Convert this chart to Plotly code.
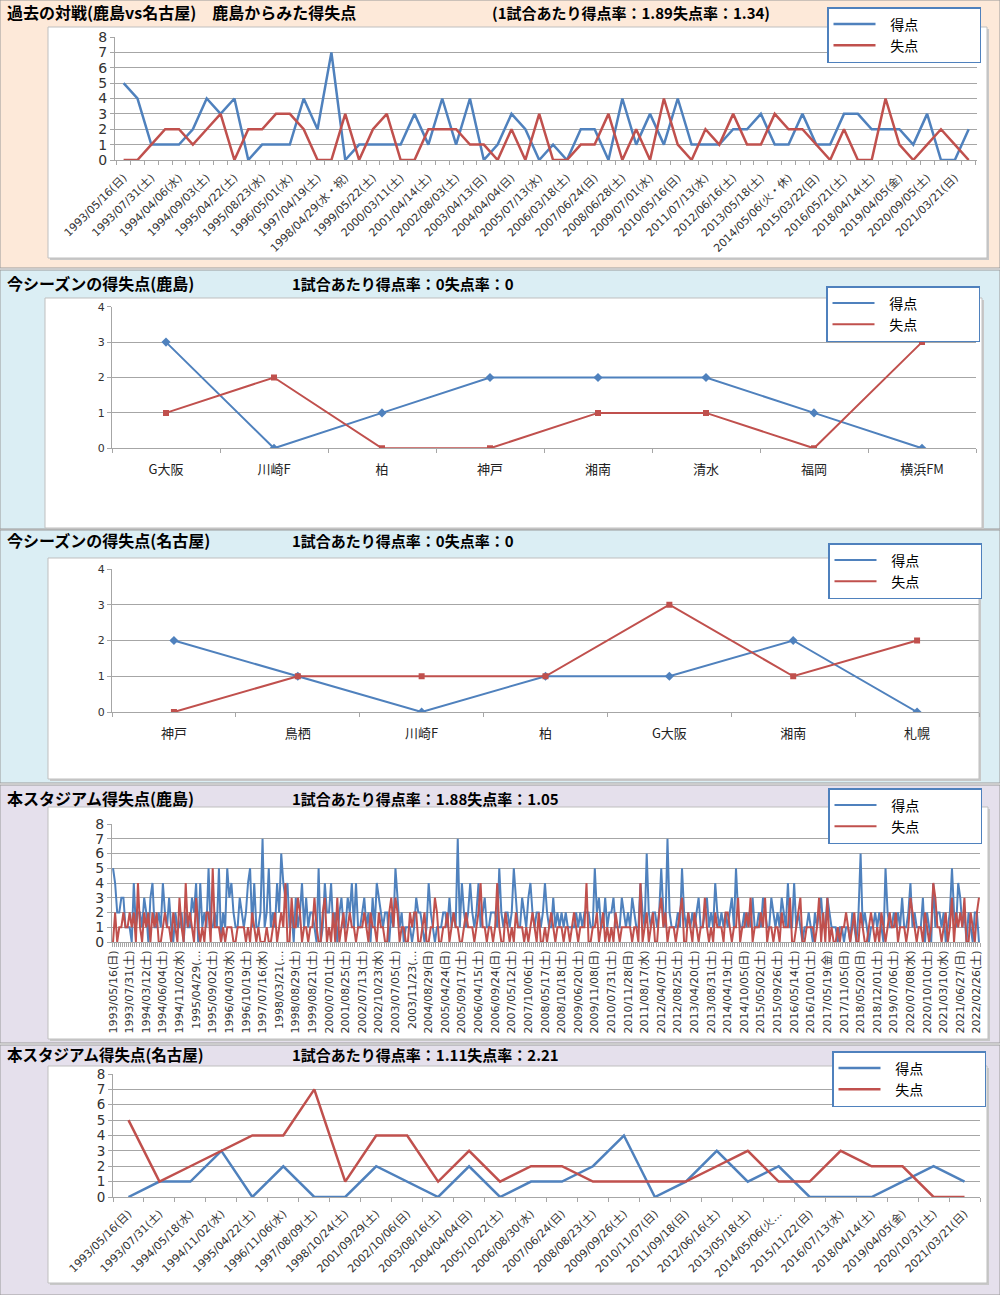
import plotly.graph_objects as go

W, H = 1000, 1295
BLUE = "#4f81bd"
RED = "#c0504d"
GRID = "#a6a6a6"
TICKFONT = "DejaVu Sans, Noto Sans CJK JP, sans-serif"
JPFONT = "Noto Sans CJK JP, sans-serif"

# ---------------- data ----------------
# Panel 1: head-to-head history (Kashima view), labels every 2nd match
p1_labels = ["1993/05/16(日)", "1993/07/31(土)", "1994/04/06(水)", "1994/09/03(土)", "1995/04/22(土)",
             "1995/08/23(水)", "1996/05/01(水)", "1997/04/19(土)", "1998/04/29(水・祝)", "1999/05/22(土)",
             "2000/03/11(土)", "2001/04/14(土)", "2002/08/03(土)", "2003/04/13(日)", "2004/04/04(日)",
             "2005/07/13(水)", "2006/03/18(土)", "2007/06/24(日)", "2008/06/28(土)", "2009/07/01(水)",
             "2010/05/16(日)", "2011/07/13(水)", "2012/06/16(土)", "2013/05/18(土)", "2014/05/06(火・休)",
             "2015/03/22(日)", "2016/05/21(土)", "2018/04/14(土)", "2019/04/05(金)", "2020/09/05(土)",
             "2021/03/21(日)"]
p1_goals = [5, 4, 1, 1, 1, 2, 4, 3, 4, 0, 1, 1, 1, 4, 2, 7, 0, 1, 1, 1,
            1, 3, 1, 4, 1, 4, 0, 1, 3, 2, 0, 1, 0, 2, 2, 0, 4, 1, 3, 1,
            4, 1, 1, 1, 2, 2, 3, 1, 1, 3, 1, 1, 3, 3, 2, 2, 2, 1, 3, 0,
            0, 2]
p1_conceded = [0, 0, 1, 2, 2, 1, 2, 3, 0, 2, 2, 3, 3, 2, 0, 0, 3, 0, 2, 3,
               0, 0, 2, 2, 2, 1, 1, 0, 2, 0, 3, 0, 0, 1, 1, 3, 0, 2, 0, 4,
               1, 0, 2, 1, 3, 1, 1, 3, 2, 2, 1, 0, 2, 0, 0, 4, 1, 0, 1, 2,
               1, 0]

# Panel 2: this season (Kashima)
p2_teams = ["G大阪", "川崎F", "柏", "神戸", "湘南", "清水", "福岡", "横浜FM"]
p2_goals = [3, 0, 1, 2, 2, 2, 1, 0]
p2_conceded = [1, 2, 0, 0, 1, 1, 0, 3]

# Panel 3: this season (Nagoya)
p3_teams = ["神戸", "鳥栖", "川崎F", "柏", "G大阪", "湘南", "札幌"]
p3_goals = [2, 1, 0, 1, 1, 2, 0]
p3_conceded = [0, 1, 1, 1, 3, 1, 2]

# Panel 4: Kashima at this stadium (labels every 8th match)
p4_labels = ["1993/05/16(日)", "1993/07/31(土)", "1994/03/12(土)", "1994/06/04(土)", "1994/11/02(水)",
             "1995/04/29(…", "1995/09/02(土)", "1996/04/03(水)", "1996/10/19(土)", "1997/07/16(水)",
             "1998/03/21(…", "1998/08/29(土)", "1999/08/21(土)", "2000/07/01(土)", "2001/08/25(土)",
             "2002/07/13(土)", "2002/10/23(水)", "2003/07/05(土)", "2003/11/23(…", "2004/08/29(日)",
             "2005/04/24(日)", "2005/09/17(土)", "2006/04/15(土)", "2006/09/24(日)", "2007/05/12(土)",
             "2007/10/06(土)", "2008/05/17(土)", "2008/10/18(土)", "2009/06/20(土)", "2009/11/08(日)",
             "2010/07/31(土)", "2010/11/28(日)", "2011/08/17(水)", "2012/04/07(土)", "2012/08/25(土)",
             "2013/04/20(土)", "2013/08/31(土)", "2014/04/19(土)", "2014/10/05(日)", "2015/05/02(土)",
             "2015/09/26(土)", "2016/05/14(土)", "2016/10/01(土)", "2017/05/19(金)", "2017/11/05(日)",
             "2018/05/20(日)", "2018/12/01(土)", "2019/07/06(土)", "2020/07/08(水)", "2020/10/10(土)",
             "2021/03/10(水)", "2021/06/27(日)", "2022/02/26(土)"]
p4_goals = [5, 4, 2, 2, 3, 3, 1, 1,  1, 0, 4, 1, 2, 2, 1, 3,  2, 0, 3, 4, 1, 1, 2, 1,  4, 2, 1, 3, 1, 0, 2, 1,
            1, 2, 0, 2, 1, 1, 3, 2,  4, 0, 4, 1, 2, 1, 5, 1,  1, 2, 1, 5, 0, 2, 1, 5,  3, 4, 2, 1, 1, 3, 2, 1,
            2, 4, 5, 1, 4, 1, 1, 2,  7, 1, 2, 5, 1, 2, 1, 4,  2, 6, 4, 3, 4, 1, 2, 0,  3, 1, 2, 4, 1, 3, 1, 2,
            2, 1, 0, 5, 0, 1, 4, 2,  2, 4, 1, 2, 0, 2, 3, 1,  1, 3, 2, 4, 1, 4, 1, 1,  2, 3, 1, 2, 0, 3, 1, 4,
            3, 2, 1, 2, 2, 0, 2, 1,  5, 3, 1, 2, 0, 1, 1, 1,  0, 1, 3, 2, 2, 1, 0, 1,  4, 2, 1, 0, 1, 1, 1, 2,
            2, 1, 3, 1, 2, 1, 7, 1,  4, 2, 1, 2, 4, 2, 1, 2,  4, 1, 2, 3, 1, 1, 2, 2,  2, 1, 5, 2, 1, 2, 2, 1,
            2, 5, 3, 1, 1, 3, 2, 1,  3, 4, 2, 1, 2, 2, 1, 2,  4, 2, 1, 1, 3, 1, 2, 1,  2, 1, 2, 1, 1, 1, 1, 2,
            1, 2, 1, 2, 2, 2, 1, 1,  5, 2, 3, 1, 1, 3, 1, 2,  2, 3, 1, 1, 1, 3, 2, 1,  2, 1, 3, 2, 1, 1, 4, 2,
            1, 6, 2, 1, 2, 2, 1, 2,  5, 2, 1, 7, 2, 1, 1, 1,  2, 1, 5, 2, 1, 2, 1, 2,  1, 2, 3, 1, 1, 2, 3, 1,
            2, 1, 4, 2, 1, 2, 1, 2,  1, 2, 3, 1, 5, 2, 1, 1,  2, 1, 2, 1, 3, 1, 1, 2,  1, 3, 2, 1, 1, 3, 2, 1,
            2, 1, 3, 2, 1, 4, 1, 1,  4, 1, 2, 1, 0, 1, 1, 2,  1, 0, 2, 1, 2, 3, 1, 1,  3, 2, 1, 1, 1, 0, 1, 1,
            0, 1, 1, 0, 2, 1, 0, 2,  6, 1, 2, 1, 0, 1, 1, 2,  1, 2, 1, 0, 5, 2, 1, 1,  2, 1, 2, 1, 3, 1, 1, 2,
            4, 1, 2, 1, 1, 1, 3, 0,  2, 1, 0, 4, 1, 2, 2, 1,  2, 0, 1, 2, 5, 2, 1, 4,  3, 1, 2, 0, 2, 1, 0, 2,
            2, 0]
p4_conceded = [0, 2, 0, 1, 1, 2, 1, 1,  2, 1, 2, 0, 4, 1, 0, 2,  1, 2, 0, 2, 1, 2, 0, 0,  1, 2, 1, 1, 0, 2, 1, 0,
               3, 1, 0, 4, 1, 2, 1, 0,  3, 1, 0, 1, 0, 2, 2, 0,  5, 1, 1, 1, 0, 1, 0, 1,  1, 1, 0, 0, 1, 1, 1, 1,
               0, 1, 0, 2, 1, 0, 1, 0,  0, 0, 1, 0, 0, 1, 2, 0,  1, 2, 1, 4, 0, 0, 3, 1,  1, 3, 2, 0, 1, 1, 0, 1,
               1, 3, 1, 0, 0, 2, 3, 0,  1, 0, 2, 0, 3, 0, 1, 2,  0, 1, 2, 1, 1, 0, 1, 1,  1, 2, 1, 0, 2, 1, 1, 0,
               2, 1, 1, 0, 0, 2, 3, 1,  3, 2, 0, 1, 1, 0, 0, 2,  1, 2, 2, 0, 0, 1, 2, 0,  0, 1, 1, 3, 2, 0, 0, 1,
               1, 2, 0, 1, 2, 1, 1, 0,  0, 1, 2, 1, 1, 1, 0, 1,  2, 4, 1, 1, 0, 1, 1, 0,  1, 4, 1, 0, 0, 2, 1, 0,
               1, 0, 2, 1, 1, 1, 0, 1,  0, 1, 2, 1, 0, 2, 0, 0,  1, 0, 1, 2, 1, 0, 1, 1,  1, 0, 1, 1, 0, 1, 2, 1,
               0, 1, 1, 1, 4, 0, 0, 1,  1, 2, 0, 1, 2, 0, 1, 0,  1, 0, 2, 1, 0, 1, 1, 1,  1, 1, 0, 1, 1, 0, 4, 0,
               1, 2, 0, 1, 2, 0, 0, 2,  3, 1, 2, 0, 1, 1, 1, 0,  1, 2, 3, 0, 0, 2, 1, 0,  2, 1, 0, 1, 1, 3, 1, 0,
               1, 0, 2, 1, 1, 1, 0, 2,  2, 1, 0, 1, 1, 3, 0, 1,  1, 2, 1, 3, 0, 1, 1, 1,  2, 1, 3, 0, 1, 1, 0, 1,
               1, 0, 2, 1, 1, 1, 3, 0,  0, 1, 2, 3, 0, 0, 1, 1,  1, 1, 0, 1, 3, 0, 2, 0,  3, 0, 1, 0, 0, 1, 0, 1,
               1, 2, 1, 0, 1, 2, 0, 0,  2, 1, 0, 0, 1, 2, 1, 0,  1, 0, 2, 1, 0, 1, 2, 1,  1, 2, 0, 1, 1, 1, 0, 1,
               3, 2, 1, 0, 1, 1, 0, 2,  1, 0, 1, 4, 3, 1, 1, 0,  1, 2, 0, 1, 3, 0, 2, 1,  2, 1, 3, 0, 0, 2, 1, 0,
               2, 3]

# Panel 5: Nagoya at this stadium
p5_labels = ["1993/05/16(日)", "1993/07/31(土)", "1994/05/18(水)", "1994/11/02(水)", "1995/04/22(土)",
             "1996/11/06(水)", "1997/08/09(土)", "1998/10/24(土)", "2001/09/29(土)", "2002/10/06(日)",
             "2003/08/16(土)", "2004/04/04(日)", "2005/10/22(土)", "2006/08/30(水)", "2007/06/24(日)",
             "2008/08/23(土)", "2009/09/26(土)", "2010/11/07(日)", "2011/09/18(日)", "2012/06/16(土)",
             "2013/05/18(土)", "2014/05/06(火…", "2015/11/22(日)", "2016/07/13(水)", "2018/04/14(土)",
             "2019/04/05(金)", "2020/10/31(土)", "2021/03/21(日)"]
p5_goals = [0, 1, 1, 3, 0, 2, 0, 0, 2, 1, 0, 2, 0, 1, 1, 2, 4, 0, 1, 3, 1, 2, 0, 0, 0, 1, 2, 1]
p5_conceded = [5, 1, 2, 3, 4, 4, 7, 1, 4, 4, 1, 3, 1, 2, 2, 1, 1, 1, 1, 2, 3, 1, 1, 3, 2, 2, 0, 0]

titles_left = ["過去の対戦(鹿島vs名古屋)　鹿島からみた得失点", "今シーズンの得失点(鹿島)", "今シーズンの得失点(名古屋)",
               "本スタジアム得失点(鹿島)", "本スタジアム得失点(名古屋)"]
titles_right = ["(1試合あたり得点率：1.89失点率：1.34)", "1試合あたり得点率：0失点率：0", "1試合あたり得点率：0失点率：0",
                "1試合あたり得点率：1.88失点率：1.05", "1試合あたり得点率：1.11失点率：2.21"]
legend_names = ["得点", "失点"]

# ---------------- layout geometry (pixels) ----------------
def fx(x):
    return x / W


def fy(y):
    return 1 - y / H


panel_bg = [(0, 268, "#fde9d9"), (270, 529, "#dbeef4"), (530, 783, "#dbeef4"),
            (785, 1043, "#e5e0ec"), (1045, 1295, "#e5e0ec")]
plot_box = [(48, 27, 987, 258), (45, 298, 982, 528), (48, 558, 979, 779),
            (48, 807, 988, 1039), (48, 1066, 987, 1283)]
axis_box = [(115, 37, 977, 160), (112, 306.7, 976, 448.3), (112, 569, 979, 712),
            (112, 824, 980, 942), (113, 1074, 980, 1197)]
legend_pos = [(827, 7), (826, 286), (828, 543), (828, 788), (832, 1051)]
title_y = [12, 283, 540, 798, 1054]
title_rx = [490, 290, 290, 290, 290]
title_size = [16, 16, 16, 16, 15.5]

fig = go.Figure()

series = [
    (list(range(len(p1_goals))), p1_goals, p1_conceded, False, 2.5),
    (list(range(len(p2_teams))), p2_goals, p2_conceded, True, 2),
    (list(range(len(p3_teams))), p3_goals, p3_conceded, True, 2),
    (list(range(len(p4_goals))), p4_goals, p4_conceded, False, 2),
    (list(range(len(p5_labels))), p5_goals, p5_conceded, False, 2.5),
]

PAD_L = "\u2002\u2009"
PAD_R = "\u3000" * 4

for i, (xs, g, c, with_markers, lw) in enumerate(series):
    n = i + 1
    xa = "x" if n == 1 else f"x{n}"
    ya = "y" if n == 1 else f"y{n}"
    lg = "legend" if n == 1 else f"legend{n}"
    for vals, col, sym, name in ((g, BLUE, "diamond", legend_names[0]), (c, RED, "square", legend_names[1])):
        fig.add_trace(go.Scatter(x=xs, y=vals, mode="lines", name=PAD_L + name + PAD_R, xaxis=xa, yaxis=ya,
                                 legend=lg, line=dict(color=col, width=lw), hoverinfo="skip"))
        if with_markers:
            fig.add_trace(go.Scatter(x=xs, y=vals, mode="markers", xaxis=xa, yaxis=ya, showlegend=False,
                                     marker=dict(symbol=sym, size=6 if sym == "square" else 7, color=col),
                                     hoverinfo="skip"))

shapes = []
annotations = []
layout = dict(width=W, height=H, margin=dict(l=0, r=0, t=0, b=0, pad=0, autoexpand=False),
              paper_bgcolor="white", plot_bgcolor="rgba(0,0,0,0)", showlegend=True, template="none")

xcfg = [
    dict(range=[-0.62, 61.6], tickvals=list(range(0, 62, 2)), ticktext=p1_labels, tickangle=-45,
         tickfont=dict(size=11, family=TICKFONT, color="#333"), standoff=6),
    dict(range=[-0.5, 7.5], tickvals=list(range(8)), ticktext=p2_teams, tickangle=0,
         tickfont=dict(size=13, family=JPFONT, color="#222"), standoff=9),
    dict(range=[-0.5, 6.5], tickvals=list(range(7)), ticktext=p3_teams, tickangle=0,
         tickfont=dict(size=13, family=JPFONT, color="#222"), standoff=9),
    dict(range=[-0.5, 417.5], tickvals=list(range(0, 418, 8)), ticktext=p4_labels, tickangle=-90,
         tickfont=dict(size=11, family=TICKFONT, color="#333"), standoff=3),
    dict(range=[-0.5, 27.5], tickvals=list(range(28)), ticktext=p5_labels, tickangle=-45,
         tickfont=dict(size=11, family=TICKFONT, color="#333"), standoff=5),
]
yranges = [8, 4, 4, 8, 8]
yfont = [14, 11, 11, 14, 13.5]

for i in range(5):
    n = i + 1
    sfx = "" if n == 1 else str(n)
    x0, y0, x1, y1 = axis_box[i]
    xc = xcfg[i]
    layout[f"xaxis{sfx}"] = dict(domain=[fx(x0), fx(x1)], anchor=f"y{sfx}", range=xc["range"],
                                 tickmode="array", tickvals=xc["tickvals"], ticktext=xc["ticktext"],
                                 tickangle=xc["tickangle"], tickfont=xc["tickfont"], ticks="",
                                 ticklabelstandoff=xc["standoff"], automargin=False,
                                 minor=dict(ticks="outside", ticklen=4, tickmode="linear", tick0=0.5, dtick=1,
                                            tickcolor=GRID, showgrid=False),
                                 showline=True, linecolor=GRID, linewidth=1, showgrid=False, zeroline=False,
                                 fixedrange=True)
    layout[f"yaxis{sfx}"] = dict(domain=[fy(y1), fy(y0)], anchor=f"x{sfx}", range=[0, yranges[i]],
                                 tickmode="linear", tick0=0, dtick=1, showgrid=True, gridcolor=GRID, gridwidth=1,
                                 ticks="outside", ticklen=4, tickcolor=GRID, showline=True, linecolor=GRID,
                                 zeroline=False, automargin=False,
                                 tickfont=dict(size=yfont[i], family=TICKFONT, color="#333"),
                                 fixedrange=True)
    lx, ly = legend_pos[i]
    layout["legend" if n == 1 else f"legend{n}"] = dict(
        x=fx(lx), y=fy(ly), xanchor="left", yanchor="top", bgcolor="white", bordercolor=BLUE, borderwidth=1.5,
        font=dict(size=14, family=JPFONT, color="#000"), itemwidth=42, tracegroupgap=0)
    # panel background and plot-area frames
    b0, b1, col = panel_bg[i]
    shapes.append(dict(type="rect", xref="paper", yref="paper", x0=0, x1=1, y0=fy(b1), y1=fy(b0),
                       fillcolor=col, line=dict(color="#9a9a9a", width=1), layer="below"))
    px0, py0, px1, py1 = plot_box[i]
    shapes.append(dict(type="rect", xref="paper", yref="paper", x0=fx(px0 + 2), x1=fx(px1 + 2), y0=fy(py1 + 2),
                       y1=fy(py0 + 2), fillcolor="#c8c8c8", line=dict(width=0), layer="below"))
    shapes.append(dict(type="rect", xref="paper", yref="paper", x0=fx(px0), x1=fx(px1), y0=fy(py1),
                       y1=fy(py0), fillcolor="white", line=dict(color="#bfbfbf", width=1), layer="below"))
    annotations.append(dict(text="<b>" + titles_left[i] + "</b>", x=fx(5), y=fy(title_y[i]), xref="paper",
                            yref="paper", xanchor="left", yanchor="middle", showarrow=False,
                            font=dict(size=title_size[i], family=JPFONT, color="#000")))
    annotations.append(dict(text="<b>" + titles_right[i] + "</b>", x=fx(title_rx[i]), y=fy(title_y[i]),
                            xref="paper", yref="paper", xanchor="left", yanchor="middle", showarrow=False,
                            font=dict(size=15, family=JPFONT, color="#000")))

layout["shapes"] = shapes
layout["annotations"] = annotations
fig.update_layout(**layout)

fig.write_html("out.html", config={"displayModeBar": False},
               post_script=["document.body.style.margin='0';"])
